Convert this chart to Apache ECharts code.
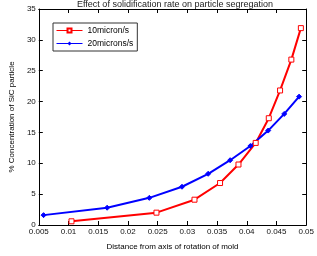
<!DOCTYPE html>
<html lang="en">
<head>
    <meta charset="UTF-8">
    <title>Particle segregation</title>
    <script src="https://cdn.jsdelivr.net/npm/echarts@6/dist/echarts.min.js"></script>
    <style>
        html, body { margin: 0; padding: 0; background: #fff; }
        #main { width: 317px; height: 256px; }
    </style>
</head>
<body>
<div id="main"></div>
<script type="text/javascript">
    // distance from axis (m) and % SiC
    var dist10 = [0.0105, 0.0248, 0.0312, 0.0355, 0.0386, 0.0415, 0.0437, 0.0456, 0.0475, 0.0491];
    var sic10 = [0.6, 2.0, 4.1, 6.8, 9.8, 13.3, 17.3, 21.8, 26.8, 31.9];
    var dist20 = [0.0058, 0.0165, 0.0236, 0.0291, 0.0335, 0.0372, 0.0406, 0.0436, 0.0463, 0.0488];
    var sic20 = [1.6, 2.8, 4.4, 6.2, 8.3, 10.5, 12.8, 15.3, 18.0, 20.8];
    var xTicks = [0.005, 0.05, 0.005];   // min, max, step
    var yTicks = [0, 35, 5];

    function pairs(xs, ys) {
        return xs.map(function (x, i) { return [x, ys[i]]; });
    }

    var font = 'Liberation Sans, Arial, sans-serif';
    var myChart = echarts.init(document.getElementById('main'));

    var tickIn = {show: true, inside: true, length: 4, lineStyle: {color: '#000'}};
    var axisLine = {show: true, onZero: false, lineStyle: {color: '#000', width: 1}};

    var option = {
        animation: false,
        title: {
            text: 'Effect of solidification rate on particle segregation',
            left: 170, top: -5, textAlign: 'center',
            textStyle: {fontFamily: font, fontSize: 9, fontWeight: 'normal', color: '#222'}
        },
        legend: {
            left: 53, top: 23, orient: 'vertical',
            itemWidth: 26, itemHeight: 5, itemGap: 4,
            padding: [3, 4, 3, 3],
            borderColor: '#333', borderWidth: 1, backgroundColor: '#fff',
            lineStyle: {width: 1},
            textStyle: {fontFamily: font, fontSize: 8.5, color: '#000'},
            data: ['10micron/s', '20microns/s']
        },
        grid: {left: 31, right: 7, top: 9, bottom: 23},
        xAxis: [{
            type: 'value', min: xTicks[0], max: xTicks[1], interval: xTicks[2],
            name: 'Distance from axis of rotation of mold',
            nameLocation: 'middle', nameGap: 18,
            nameTextStyle: {fontFamily: font, fontSize: 8, color: '#000'},
            axisLine: axisLine, axisTick: tickIn, splitLine: {show: false},
            axisLabel: {
                fontFamily: font, fontSize: 8, color: '#111', margin: 3,
                formatter: function (v) { return String(parseFloat(v.toFixed(3))); }
            }
        }, {
            type: 'value', position: 'top', min: xTicks[0], max: xTicks[1], interval: xTicks[2],
            axisLine: axisLine, axisTick: tickIn, axisLabel: {show: false}, splitLine: {show: false}
        }],
        yAxis: [{
            type: 'value', min: yTicks[0], max: yTicks[1], interval: yTicks[2],
            name: '% Concentration of SiC particle',
            nameLocation: 'middle', nameGap: 21,
            nameTextStyle: {fontFamily: font, fontSize: 8, color: '#000'},
            axisLine: axisLine, axisTick: tickIn, splitLine: {show: false},
            axisLabel: {fontFamily: font, fontSize: 8, color: '#111', margin: 3}
        }, {
            type: 'value', position: 'right', min: yTicks[0], max: yTicks[1], interval: yTicks[2],
            axisLine: axisLine, axisTick: tickIn, axisLabel: {show: false}, splitLine: {show: false}
        }],
        series: [{
            name: '10micron/s', type: 'line',
            data: pairs(dist10, sic10),
            symbol: 'rect', symbolSize: 5,
            lineStyle: {color: '#ff0000', width: 2},
            itemStyle: {color: '#fff', borderColor: '#ff0000', borderWidth: 1}
        }, {
            name: '20microns/s', type: 'line',
            data: pairs(dist20, sic20),
            symbol: 'diamond', symbolSize: 5,
            lineStyle: {color: '#0000ff', width: 2},
            itemStyle: {color: '#0000ff', borderColor: '#0000ff'}
        }]
    };

    myChart.setOption(option);
</script>
</body>
</html>
